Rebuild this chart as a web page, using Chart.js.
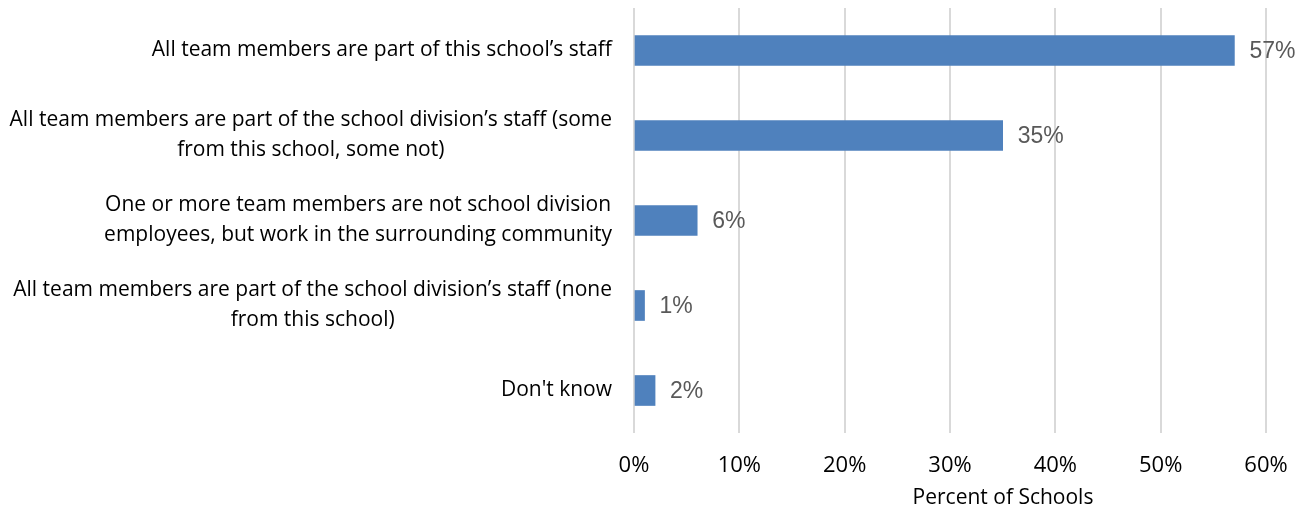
<!DOCTYPE html>
<html>
<head>
<meta charset="utf-8">
<title>Team membership</title>
<script src="https://cdn.jsdelivr.net/npm/chart.js@4.4.1/dist/chart.umd.min.js"></script>
<style>
  html, body { margin: 0; padding: 0; background: #ffffff; }
  canvas { display: block; }
</style>
</head>
<body>
<canvas id="chart" width="1308" height="513"></canvas>
<script>
// Categories (each entry is a list of label lines)
const categories = [
  ["All team members are part of this school’s staff"],
  ["All team members are part of the school division’s staff (some", "from this school, some not)"],
  ["One or more team members are not school division", "employees, but work in the surrounding community"],
  ["All team members are part of the school division’s staff (none", "from this school)"],
  ["Don't know"]
];
// Share of schools for each answer, in percent
const percentOfSchools = [57, 35, 6, 1, 2];
// Tick values on the percent axis
const xTickValues = [0, 10, 20, 30, 40, 50, 60];
const xAxisTitle = "Percent of Schools";

const textFont = '"Open Sans", "DejaVu Sans", sans-serif';
const valueFont = '"Liberation Sans", Arial, sans-serif';

// Draws the wrapped category labels, the value labels and the axis title
const annotate = {
  id: 'annotate',
  afterDraw(chart) {
    const ctx = chart.ctx;
    const yScale = chart.scales.y;
    const xScale = chart.scales.x;
    const area = chart.chartArea;

    ctx.save();
    // category labels: block right-aligned, lines centred within the block
    ctx.font = '21px ' + textFont;
    ctx.fillStyle = '#000000';
    ctx.textAlign = 'center';
    ctx.textBaseline = 'middle';
    const lineH = 30;
    categories.forEach((lines, i) => {
      const y = yScale.getPixelForTick(i);
      const maxW = Math.max(...lines.map(l => ctx.measureText(l).width));
      const cx = area.left - 22 - maxW / 2;
      const y0 = y - (lines.length - 1) * lineH / 2;
      lines.forEach((l, k) => ctx.fillText(l, cx, y0 + k * lineH));
    });

    // value labels at the end of each bar
    ctx.font = '23px ' + valueFont;
    ctx.fillStyle = '#595959';
    ctx.textAlign = 'left';
    const meta = chart.getDatasetMeta(0);
    meta.data.forEach((bar, i) => {
      ctx.fillText(percentOfSchools[i] + '%', bar.x + 15, bar.y + 1);
    });

    // axis title
    ctx.font = '21px ' + textFont;
    ctx.fillStyle = '#000000';
    ctx.textAlign = 'center';
    ctx.fillText(xAxisTitle, (xScale.left + xScale.right) / 2 + 53, xScale.top + 65);
    ctx.restore();
  }
};

new Chart(document.getElementById('chart'), {
  type: 'bar',
  data: {
    labels: categories.map(c => c.join(' ')),
    datasets: [{
      data: percentOfSchools,
      backgroundColor: '#4F81BD',
      barThickness: 30
    }]
  },
  options: {
    indexAxis: 'y',
    responsive: false,
    animation: false,
    layout: { padding: { top: 8, right: 42, left: 0, bottom: 0 } },
    plugins: {
      legend: { display: false },
      tooltip: { enabled: false }
    },
    scales: {
      x: {
        min: 0,
        max: 60,
        afterBuildTicks: s => { s.ticks = xTickValues.map(v => ({ value: v })); },
        ticks: {
          callback: v => v + '%',
          color: '#000000',
          font: { family: textFont, size: 22 },
          padding: 20,
          maxRotation: 0
        },
        grid: { color: '#D9D9D9', lineWidth: 2, drawTicks: false },
        border: { display: false },
        afterFit: s => { s.height = 80; }
      },
      y: {
        grid: { display: false },
        border: { display: false },
        ticks: { display: false },
        afterFit: s => { s.width = 634; }
      }
    }
  },
  plugins: [annotate]
});
</script>
</body>
</html>
